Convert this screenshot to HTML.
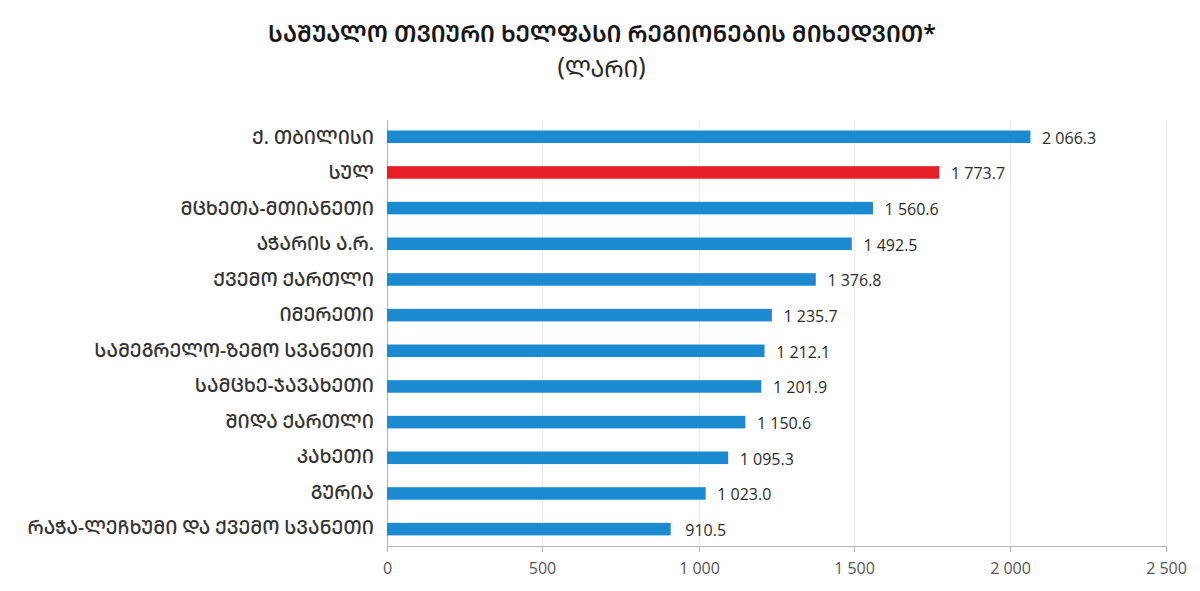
<!DOCTYPE html>
<html lang="ka"><head><meta charset="utf-8"><title>საშუალო თვიური ხელფასი რეგიონების მიხედვით*</title>
<style>
html,body{margin:0;padding:0;background:#fff;}
body{width:1200px;height:591px;position:relative;overflow:hidden;}
svg{position:absolute;left:0;top:0;}
h1{position:absolute;left:0;width:1204px;top:16px;margin:0;text-align:center;letter-spacing:0px;font:650 23px/34px "Noto Sans Georgian","DejaVu Sans","Liberation Sans",sans-serif;color:#161616;}
.sub{position:absolute;left:0;width:1203px;top:50.5px;text-align:center;font:400 23px/34px "Noto Sans Georgian","DejaVu Sans","Liberation Sans",sans-serif;color:#262626;}
.p{font-size:24.5px;position:relative;top:-1.6px;}
.cl{position:absolute;right:826.2px;height:24px;white-space:nowrap;letter-spacing:-0.1px;font:500 19px/24px "Noto Sans Georgian","DejaVu Sans","Liberation Sans",sans-serif;color:#333;}
.dl{position:absolute;height:24px;white-space:nowrap;font:400 16px/24px "Open Sans","Liberation Sans",sans-serif;color:#2b2b2b;}
.xl{position:absolute;top:556px;width:100px;text-align:center;white-space:nowrap;font:400 16px/24px "Open Sans","Liberation Sans",sans-serif;color:#555;}
h1,.sub,.cl{font-feature-settings:"case" 1;}
</style></head><body>
<svg width="1200" height="591" viewBox="0 0 1200 591">
<rect x="542" y="120" width="1" height="426" fill="#ececec"/>
<rect x="542" y="547" width="1" height="5" fill="#b2b2b2"/>
<rect x="699" y="120" width="1" height="426" fill="#ececec"/>
<rect x="699" y="547" width="1" height="5" fill="#b2b2b2"/>
<rect x="854" y="120" width="1" height="426" fill="#ececec"/>
<rect x="854" y="547" width="1" height="5" fill="#b2b2b2"/>
<rect x="1010" y="120" width="1" height="426" fill="#ececec"/>
<rect x="1010" y="547" width="1" height="5" fill="#b2b2b2"/>
<rect x="1166" y="120" width="1" height="426" fill="#ececec"/>
<rect x="1166" y="547" width="1" height="5" fill="#b2b2b2"/>
<rect x="387" y="120" width="1" height="432" fill="#b2b2b2"/>
<rect x="387" y="546" width="780" height="1" fill="#b2b2b2"/>
<rect x="387" y="130.50" width="643.44" height="12.54" fill="#1c8ad1"/>
<rect x="387" y="166.17" width="552.35" height="12.54" fill="#e61e26"/>
<rect x="387" y="201.84" width="486.01" height="12.54" fill="#1c8ad1"/>
<rect x="387" y="237.51" width="464.82" height="12.54" fill="#1c8ad1"/>
<rect x="387" y="273.18" width="428.80" height="12.54" fill="#1c8ad1"/>
<rect x="387" y="308.85" width="384.87" height="12.54" fill="#1c8ad1"/>
<rect x="387" y="344.51" width="377.53" height="12.54" fill="#1c8ad1"/>
<rect x="387" y="380.18" width="374.35" height="12.54" fill="#1c8ad1"/>
<rect x="387" y="415.85" width="358.38" height="12.54" fill="#1c8ad1"/>
<rect x="387" y="451.52" width="341.17" height="12.54" fill="#1c8ad1"/>
<rect x="387" y="487.19" width="318.66" height="12.54" fill="#1c8ad1"/>
<rect x="387" y="522.86" width="283.64" height="12.54" fill="#1c8ad1"/>
</svg>
<h1>საშუალო თვიური ხელფასი რეგიონების მიხედვით*</h1>
<div class="sub"><span class="p">(</span>ლარი<span class="p">)</span></div>
<span class="xl" style="left:337.5px">0</span><span class="xl" style="left:492.5px">500</span><span class="xl" style="left:649.5px">1 000</span><span class="xl" style="left:804.5px">1 500</span><span class="xl" style="left:960.5px">2 000</span><span class="xl" style="left:1116.5px">2 500</span>
<div class="cl" style="top:125.00px">ქ. თბილისი</div><div class="dl" style="top:125.57px;left:1042.04px">2 066.3</div>
<div class="cl" style="top:160.46px">სულ</div><div class="dl" style="top:161.24px;left:950.95px">1 773.7</div>
<div class="cl" style="top:195.91px">მცხეთა-მთიანეთი</div><div class="dl" style="top:196.91px;left:884.61px">1 560.6</div>
<div class="cl" style="top:231.37px">აჭარის ა.რ.</div><div class="dl" style="top:232.58px;left:863.42px">1 492.5</div>
<div class="cl" style="top:266.83px">ქვემო ქართლი</div><div class="dl" style="top:268.25px;left:827.40px">1 376.8</div>
<div class="cl" style="top:302.28px">იმერეთი</div><div class="dl" style="top:303.92px;left:783.47px">1 235.7</div>
<div class="cl" style="top:337.74px">სამეგრელო-ზემო სვანეთი</div><div class="dl" style="top:339.58px;left:776.13px">1 212.1</div>
<div class="cl" style="top:373.20px">სამცხე-ჯავახეთი</div><div class="dl" style="top:375.25px;left:772.95px">1 201.9</div>
<div class="cl" style="top:408.66px">შიდა ქართლი</div><div class="dl" style="top:410.92px;left:756.98px">1 150.6</div>
<div class="cl" style="top:444.11px">კახეთი</div><div class="dl" style="top:446.59px;left:739.77px">1 095.3</div>
<div class="cl" style="top:479.57px">გურია</div><div class="dl" style="top:482.26px;left:717.26px">1 023.0</div>
<div class="cl" style="top:515.03px">რაჭა-ლეჩხუმი და ქვემო სვანეთი</div><div class="dl" style="top:517.93px;left:685.24px">910.5</div>
</body></html>
